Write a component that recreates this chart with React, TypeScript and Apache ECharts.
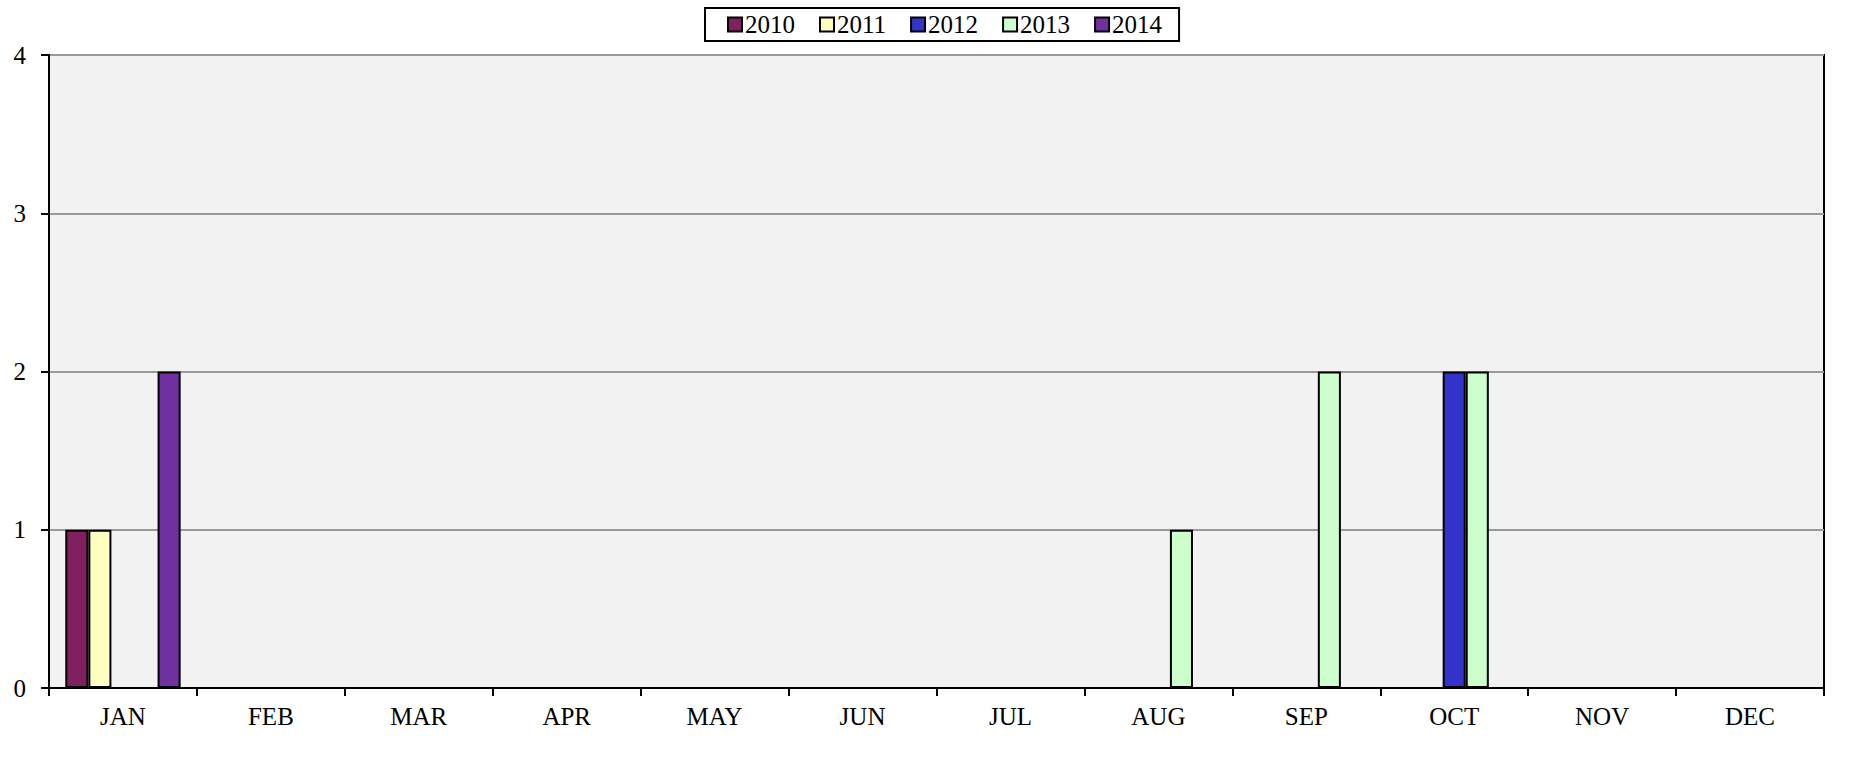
import React, { useEffect, useRef } from "react";
import * as echarts from "echarts";

const months = ["JAN", "FEB", "MAR", "APR", "MAY", "JUN", "JUL", "AUG", "SEP", "OCT", "NOV", "DEC"];
const years = ["2010", "2011", "2012", "2013", "2014"];
const s2010 = [1, 0, 0, 0, 0, 0, 0, 0, 0, 0, 0, 0];
const s2011 = [1, 0, 0, 0, 0, 0, 0, 0, 0, 0, 0, 0];
const s2012 = [0, 0, 0, 0, 0, 0, 0, 0, 0, 2, 0, 0];
const s2013 = [0, 0, 0, 0, 0, 0, 0, 1, 2, 2, 0, 0];
const s2014 = [2, 0, 0, 0, 0, 0, 0, 0, 0, 0, 0, 0];
const seriesValues = [s2010, s2011, s2012, s2013, s2014];
const colors = ["#802060", "#FFFFC0", "#3333CC", "#CCFFCC", "#7030A0"];

const FONT = "'Liberation Serif', 'Times New Roman', serif";

export default function App() {
  const ref = useRef<HTMLDivElement>(null);
  useEffect(() => {
    document.body.style.margin = "0";
    const chart = echarts.init(ref.current!, null, { renderer: "svg" });
    chart.setOption({
      animation: false,
      backgroundColor: "#ffffff",
      legend: {
        left: 705,
        top: 8,
        padding: [4, 17, 4, 22],
        itemGap: 24,
        itemWidth: 14,
        itemHeight: 14,
        icon: "rect",
        borderColor: "#000",
        borderWidth: 2,
        textStyle: { fontFamily: FONT, fontSize: 25, color: "#000", padding: [0, 0, 0, -2] },
        data: years,
      },
      grid: {
        left: 49,
        right: 32,
        top: 55,
        bottom: 80,
        show: true,
        backgroundColor: "#F2F2F2",
        borderColor: "#000",
        borderWidth: 2,
      },
      xAxis: {
        type: "category",
        data: months,
        axisLine: { lineStyle: { color: "#000", width: 2 } },
        axisTick: { show: true, length: 8, lineStyle: { color: "#000", width: 2 } },
        axisLabel: { fontFamily: FONT, fontSize: 25, color: "#000", margin: 16 },
        splitLine: { show: false },
      },
      yAxis: {
        type: "value",
        min: 0,
        max: 4,
        interval: 1,
        axisLine: { show: true, lineStyle: { color: "#000", width: 2 } },
        axisTick: { show: true, length: 8, lineStyle: { color: "#000", width: 2 } },
        axisLabel: { fontFamily: FONT, fontSize: 25, color: "#000", margin: 23 },
        splitLine: { show: true, lineStyle: { color: "#999999", width: 2 } },
      },
      series: years.map((y, i) => ({
        name: y,
        type: "bar",
        data: seriesValues[i],
        barGap: "0%",
        barCategoryGap: "22%",
        itemStyle: { color: colors[i], borderColor: "#000", borderWidth: 2 },
      })),
    });
    return () => chart.dispose();
  }, []);
  return <div ref={ref} style={{ position: "fixed", left: 0, top: 0, width: 1856, height: 768 }} />;
}
